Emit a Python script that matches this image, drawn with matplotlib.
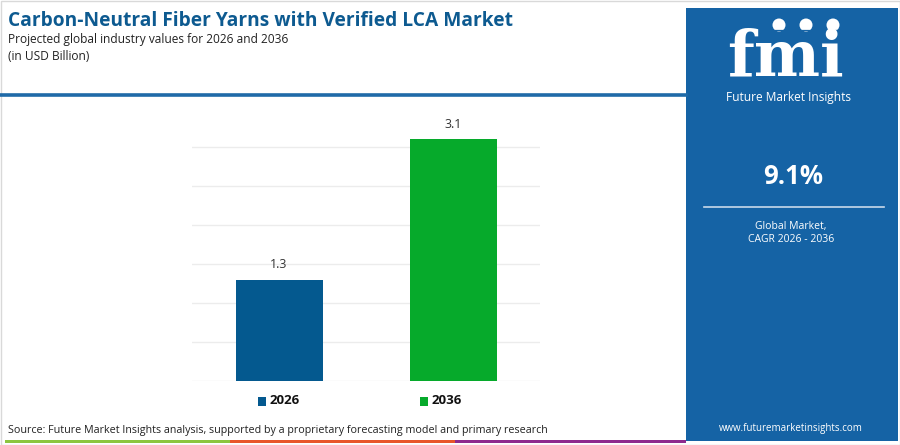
import matplotlib
matplotlib.use("Agg")
import matplotlib.pyplot as plt
from matplotlib.patches import Rectangle, Ellipse

# 数据
years = ["2026", "2036"]
values = [1.3, 3.1]
bar_colors = ["#04598f", "#06aa2b"]
cagr_text = "9.1%"

title = "Carbon-Neutral Fiber Yarns with Verified LCA Market"
subtitle = "Projected global industry values for 2026 and 2036"
unit_text = "(in USD Billion)"
source_text = "Source: Future Market Insights analysis, supported by a proprietary forecasting model and primary research"

W, H = 900, 445
PANEL = "#1563a5"
TITLE_C = "#0d5a90"

plt.rcParams["font.family"] = ["Open Sans", "DejaVu Sans"]

fig = plt.figure(figsize=(9, 4.45), dpi=100)
fig.patch.set_facecolor("white")


def fx(px):
    return px / W


def fy(py):
    # 像素坐标 (从上往下) 转换为 figure 坐标
    return 1 - py / H


# 外框
fig.add_artist(Rectangle((fx(0.5), fy(444.5)), fx(899), 444 / H, transform=fig.transFigure,
                         fill=False, edgecolor="#d9d9d9", linewidth=1))

# 标题区
fig.text(fx(8), fy(21), title, fontsize=13.8, fontweight="bold", color=TITLE_C, va="center", ha="left")
fig.text(fx(8), fy(39), subtitle, fontsize=8.6, color="#222222", va="center", ha="left")
fig.text(fx(8), fy(56), unit_text, fontsize=8.6, color="#222222", va="center", ha="left")

# 蓝色分隔线
fig.add_artist(plt.Line2D([fx(0), fx(686)], [fy(95), fy(95)], transform=fig.transFigure,
                          color="#1f6aa8", linewidth=2.6))

# 右侧面板
fig.add_artist(Rectangle((fx(686), fy(441)), fx(212), 433 / H, transform=fig.transFigure,
                         facecolor=PANEL, edgecolor="none"))

# logo
fig.text(fx(785), fy(88), "fmi", fontsize=45, fontweight="bold", family=["DejaVu Serif"],
         color="white", ha="center", va="bottom")
for i in range(12):
    yy = 30 + i * 4.4
    fig.add_artist(plt.Line2D([fx(715), fx(855)], [fy(yy), fy(yy)], transform=fig.transFigure,
                              color=PANEL, linewidth=0.9))
for cx in [779, 806, 833]:
    fig.add_artist(Ellipse((fx(cx), fy(25)), fx(13), 13 / H, transform=fig.transFigure,
                           facecolor="white", edgecolor="none"))
fig.text(fx(788), fy(98), "Future Market Insights", fontsize=8.6, color="white", ha="center", va="center")

fig.text(fx(793), fy(176), cagr_text, fontsize=18.5, fontweight="bold", color="white", ha="center", va="center")
fig.add_artist(plt.Line2D([fx(704), fx(884)], [fy(207), fy(207)], transform=fig.transFigure,
                          color="#c9d9ea", linewidth=1.2))
fig.text(fx(791), fy(226), "Global Market,", fontsize=7.5, color="white", ha="center", va="center")
fig.text(fx(791), fy(239), "CAGR 2026 - 2036", fontsize=7.5, color="white", ha="center", va="center")
fig.text(fx(791), fy(428), "www.futuremarketinsights.com", fontsize=7, color="white", ha="center", va="center")

# 柱状图
ax = fig.add_axes([fx(192), fy(381), fx(540 - 192), (381 - 108) / H])
x = list(range(len(years)))
ax.bar(x, values, width=0.5, color=bar_colors, zorder=3)
ax.set_xlim(-0.5, 1.5)
ax.set_ylim(0, 3.5)
ax.set_yticks([0, 0.5, 1.0, 1.5, 2.0, 2.5, 3.0])
ax.yaxis.grid(True, color="#ececec", linewidth=1, zorder=0)
ax.tick_params(left=False, bottom=False, labelleft=False, labelbottom=False)
for s in ax.spines.values():
    s.set_visible(False)
for xi, v in zip(x, values):
    ax.annotate(f"{v}", (xi, v), xytext=(0, 6), textcoords="offset points",
                ha="center", va="bottom", fontsize=9, color="#333333")

# 图例
legend_x = [258, 420]
for lx, yr, c in zip(legend_x, years, bar_colors):
    fig.add_artist(Rectangle((fx(lx), fy(406)), fx(8), 9 / H, transform=fig.transFigure,
                             facecolor=c, edgecolor="none"))
    fig.text(fx(lx + 12), fy(401), yr, fontsize=9.5, fontweight="bold", color="#111111",
             ha="left", va="center")

# 来源
fig.text(fx(8), fy(430), source_text, fontsize=7.75, color="#222222", ha="left", va="center")

# 底部彩条
for x0, x1, c in [(5, 230, "#8cc63f"), (230, 455, "#e8562a"), (455, 686, "#8e2a8e")]:
    fig.add_artist(Rectangle((fx(x0), fy(442.5)), fx(x1 - x0), 3 / H, transform=fig.transFigure,
                             facecolor=c, edgecolor="none"))

fig.savefig("out.png", dpi=100, facecolor="white")
